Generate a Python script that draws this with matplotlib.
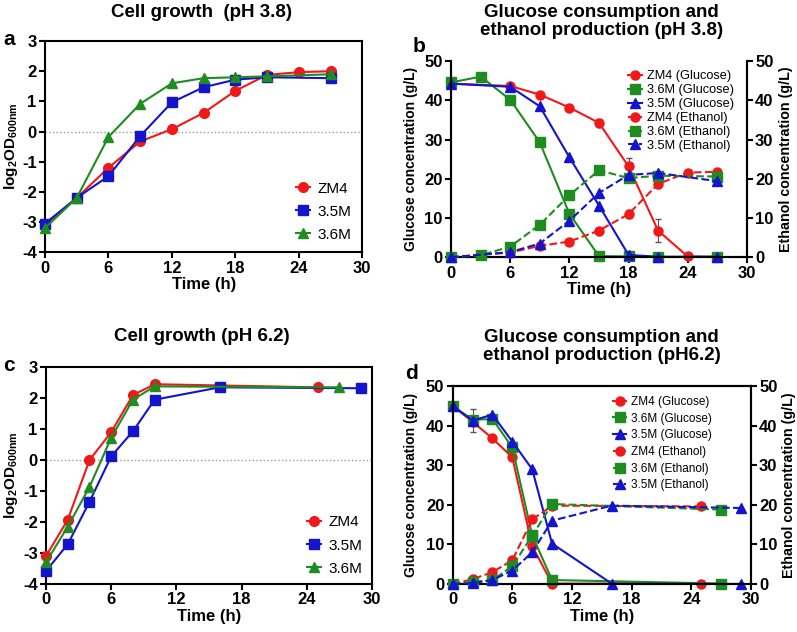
#!/usr/bin/env python3

import matplotlib
matplotlib.use("Agg")
import matplotlib.pyplot as plt

plt.rcParams['font.family'] = ['Liberation Sans', 'DejaVu Sans']
plt.rcParams['font.weight'] = 'bold'
plt.rcParams['axes.unicode_minus'] = False
plt.rcParams['mathtext.fontset'] = 'custom'
plt.rcParams['mathtext.rm'] = 'Liberation Sans:bold'
plt.rcParams['mathtext.bf'] = 'Liberation Sans:bold'
plt.rcParams['mathtext.default'] = 'bf'

RED = '#f01818'
BLUE = '#1414cc'
GREEN = '#1e8c1e'

# ---- panel a: cell growth pH 3.8
a_t_zm4 = [0, 3, 6, 9, 12, 15, 18, 21, 24, 27]
a_zm4 = [-3.1, -2.2, -1.2, -0.33, 0.08, 0.62, 1.35, 1.88, 1.97, 2.0]
a_t_35 = [0, 3, 6, 9, 12, 15, 18, 21, 27]
a_35m = [-3.05, -2.2, -1.48, -0.15, 0.97, 1.47, 1.72, 1.8, 1.77]
a_t_36 = [0, 3, 6, 9, 12, 15, 18, 21, 27]
a_36m = [-3.2, -2.2, -0.18, 0.92, 1.6, 1.77, 1.8, 1.83, 1.9]

# ---- panel b: glucose / ethanol pH 3.8
b_t_zm4 = [0, 6, 9, 12, 15, 18, 21, 24, 27]
b_glc_zm4 = [44.3, 43.7, 41.5, 38.2, 34.3, 23.2, 6.8, 0.2, 0.1]
b_glc_zm4_err = [0, 0, 0, 0, 1.0, 2.2, 3.0, 0, 0]
b_eth_zm4 = [0, 1.2, 2.9, 4.0, 6.8, 11.0, 18.7, 21.6, 21.8]
b_eth_zm4_err = [0, 0, 0, 0, 0, 1.0, 1.0, 0, 0]
b_t_36 = [0, 3, 6, 9, 12, 15, 18, 21, 27]
b_glc_36m = [44.6, 46.1, 40.2, 29.3, 11.1, 0.3, 0.2, 0.1, 0.1]
b_eth_36m = [0, 0.5, 2.7, 8.3, 15.8, 22.2, 20.2, 20.8, 20.6]
b_t_35 = [0, 6, 9, 12, 15, 18, 21, 27]
b_glc_35m = [44.3, 43.5, 38.5, 25.5, 13.2, 0.6, 0.1, 0.1]
b_eth_35m = [0, 1.3, 3.5, 9.3, 16.4, 21.0, 21.5, 19.4]

# ---- panel c: cell growth pH 6.2
c_t_zm4 = [0, 2, 4, 6, 8, 10, 25]
c_zm4 = [-3.1, -1.93, 0.0, 0.9, 2.1, 2.45, 2.35]
c_t_35 = [0, 2, 4, 6, 8, 10, 16, 29]
c_35m = [-3.58, -2.72, -1.35, 0.12, 0.93, 1.95, 2.35, 2.32]
c_t_36 = [0, 2, 4, 6, 8, 10, 27]
c_36m = [-3.3, -2.15, -0.87, 0.72, 1.95, 2.38, 2.35]

# ---- panel d: glucose / ethanol pH 6.2
d_t_zm4 = [0, 2, 4, 6, 8, 10, 25]
d_glc_zm4 = [45, 41.0, 36.8, 32.0, 9.6, 0.1, 0.1]
d_eth_zm4 = [0, 1.2, 3.0, 6.0, 16.3, 19.8, 19.6]
d_t_36 = [0, 2, 4, 6, 8, 10, 27]
d_glc_36m = [45, 41.5, 41.7, 34.5, 12.3, 1.0, 0.1]
d_eth_36m = [0, 0.5, 1.0, 4.5, 12.2, 20.2, 18.8]
d_t_35 = [0, 2, 4, 6, 8, 10, 16, 29]
d_glc_35m = [45, 41.3, 42.8, 36.0, 29.0, 10.2, 0.1, 0.0]
d_glc_35m_err = [0, 3.0, 0, 0, 0, 0, 0, 0]
d_eth_35m = [0, 0.2, 1.0, 3.4, 8.0, 16.0, 19.8, 19.2]

xticks = [0, 6, 12, 18, 24, 30]
TICKFS = 12
YLABFS = 10


def style_axis(ax, top=True):
    ax.set_xlim(0, 30)
    ax.set_xticks(xticks)
    ax.tick_params(direction='out', width=1.5, length=4, labelsize=TICKFS, pad=2)
    for s in ax.spines.values():
        s.set_linewidth(1.5)
    if not top:
        ax.spines['top'].set_visible(False)
    ax.set_xlabel('Time (h)', fontsize=12, fontweight='bold', labelpad=1)


def growth_panel(ax, series, leg_anchor, ylab_x):
    for t, y, c, m, lab in series:
        ax.plot(t, y, color=c, marker=m, markersize=7, linewidth=1.5,
                label=lab, clip_on=False, zorder=3)
    ax.axhline(0, color='#999999', linestyle=':', linewidth=1)
    ax.set_ylim(-4, 3)
    ax.set_yticks(range(-4, 4))
    style_axis(ax)
    ax.set_ylabel(r'log$_2$OD$_{600nm}$', fontsize=11, fontweight='bold')
    ax.yaxis.set_label_coords(ylab_x, 0.5)
    ax.legend(loc='lower right', bbox_to_anchor=leg_anchor, frameon=False,
              handlelength=0.9, handletextpad=0.5, labelspacing=0.6,
              prop={'weight': 'normal', 'size': 11}, borderaxespad=0.0)


def glucose_panel(ax, glc, eth, top, leg_anchor, legfs, legsp, ylab_l, ylab_r):
    ax2 = ax.twinx()
    handles = []
    labels = []
    for t, y, err, c, m, lab in glc:
        h = ax.errorbar(t, y, yerr=err, color=c, marker=m, markersize=6.5, linewidth=1.5,
                        ecolor='#555555', elinewidth=0.8, capsize=2,
                        clip_on=False, zorder=3)
        handles.append(h.lines[0])
        labels.append(lab)
    for t, y, err, c, m, lab in eth:
        h = ax2.errorbar(t, y, yerr=err, color=c, marker=m, markersize=6.5, linewidth=1.5,
                         linestyle='--', ecolor='#555555', elinewidth=0.8, capsize=2,
                         clip_on=False, zorder=3)
        handles.append(h.lines[0])
        labels.append(lab)
    for a in (ax, ax2):
        a.set_ylim(0, 50)
        a.set_yticks(range(0, 51, 10))
        style_axis(a, top=top)
    ax.set_ylabel('Glucose concentration (g/L)', fontsize=YLABFS, fontweight='bold')
    ax.yaxis.set_label_coords(ylab_l, 0.5)
    ax2.set_ylabel('Ethanol concentration (g/L)', fontsize=YLABFS + 0.3, fontweight='bold')
    ax2.yaxis.set_label_coords(ylab_r, 0.5)
    ax.legend(handles, labels, loc='upper right', bbox_to_anchor=leg_anchor, frameon=False,
              handlelength=1.1, handletextpad=0.4, labelspacing=legsp,
              prop={'weight': 'normal', 'size': legfs}, borderaxespad=0.0)
    return ax2


fig = plt.figure(figsize=(7.97, 6.32), dpi=100)

ax_a = fig.add_axes([0.0565, 0.601, 0.398, 0.334])
growth_panel(ax_a, [(a_t_zm4, a_zm4, RED, 'o', 'ZM4'),
                    (a_t_35, a_35m, BLUE, 's', '3.5M'),
                    (a_t_36, a_36m, GREEN, '^', '3.6M')], (0.985, 0.02), -0.079)
fig.text(0.253, 0.980, 'Cell growth  (pH 3.8)', ha='center', va='center', fontsize=13.5,
         fontweight='bold')
fig.text(0.004, 0.938, 'a', ha='left', va='center', fontsize=15, fontweight='bold')

ax_b = fig.add_axes([0.566, 0.593, 0.371, 0.310])
glucose_panel(ax_b,
              [(b_t_zm4, b_glc_zm4, b_glc_zm4_err, RED, 'o', 'ZM4 (Glucose)'),
               (b_t_36, b_glc_36m, None, GREEN, 's', '3.6M (Glucose)'),
               (b_t_35, b_glc_35m, None, BLUE, '^', '3.5M (Glucose)')],
              [(b_t_zm4, b_eth_zm4, b_eth_zm4_err, RED, 'o', 'ZM4 (Ethanol)'),
               (b_t_36, b_eth_36m, None, GREEN, 's', '3.6M (Ethanol)'),
               (b_t_35, b_eth_35m, None, BLUE, '^', '3.5M (Ethanol)')],
              False, (0.976, 0.98), 9.2, 0.15, -0.111, 1.108)
fig.text(0.755, 0.966, 'Glucose consumption and\nethanol production (pH 3.8)', ha='center',
         va='center', fontsize=13.5, fontweight='bold', linespacing=1.1)
fig.text(0.518, 0.926, 'b', ha='left', va='center', fontsize=15, fontweight='bold')

ax_c = fig.add_axes([0.0577, 0.076, 0.409, 0.343])
growth_panel(ax_c, [(c_t_zm4, c_zm4, RED, 'o', 'ZM4'),
                    (c_t_35, c_35m, BLUE, 's', '3.5M'),
                    (c_t_36, c_36m, GREEN, '^', '3.6M')], (0.99, 0.01), -0.08)
fig.text(0.253, 0.468, 'Cell growth (pH 6.2)', ha='center', va='center', fontsize=13.5,
         fontweight='bold')
fig.text(0.004, 0.422, 'c', ha='left', va='center', fontsize=15, fontweight='bold')

ax_d = fig.add_axes([0.568, 0.076, 0.374, 0.313])
glucose_panel(ax_d,
              [(d_t_zm4, d_glc_zm4, None, RED, 'o', 'ZM4 (Glucose)'),
               (d_t_36, d_glc_36m, None, GREEN, 's', '3.6M (Glucose)'),
               (d_t_35, d_glc_35m, d_glc_35m_err, BLUE, '^', '3.5M (Glucose)')],
              [(d_t_zm4, d_eth_zm4, None, RED, 'o', 'ZM4 (Ethanol)'),
               (d_t_36, d_eth_36m, None, GREEN, 's', '3.6M (Ethanol)'),
               (d_t_35, d_eth_35m, None, BLUE, '^', '3.5M (Ethanol)')],
              True, (0.885, 0.975), 8.5, 0.4, -0.117, 1.105)
fig.text(0.755, 0.452, 'Glucose consumption and\nethanol production (pH6.2)', ha='center',
         va='center', fontsize=13.5, fontweight='bold', linespacing=1.1)
fig.text(0.508, 0.409, 'd', ha='left', va='center', fontsize=15, fontweight='bold')

fig.savefig('out.png', dpi=100)
